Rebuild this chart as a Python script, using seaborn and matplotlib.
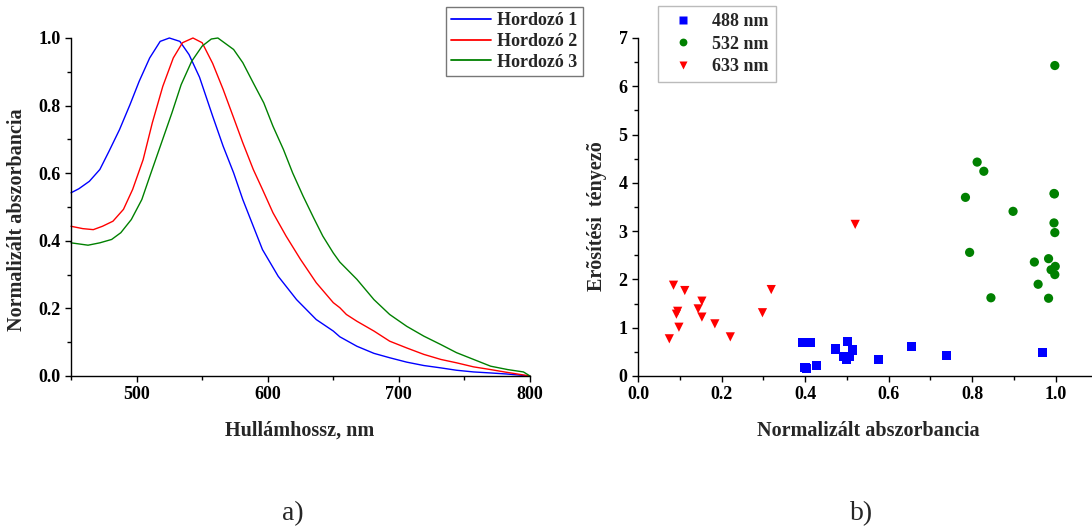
import numpy as np
import pandas as pd
import matplotlib
matplotlib.use("Agg")
import matplotlib.pyplot as plt
import seaborn as sns
from matplotlib.ticker import MultipleLocator

# ---------------- data ----------------
wl_1 = [450, 456, 464, 472, 479, 487, 495, 502, 510, 518, 525, 533, 540, 548, 558, 566, 574,
        581, 589, 596, 608, 622, 637, 650, 655, 668, 681, 693, 706, 719, 732, 744, 757, 770,
        782, 800]
abs_1 = [0.542, 0.554, 0.576, 0.611, 0.665, 0.729, 0.803, 0.872, 0.941, 0.99, 1.0, 0.99, 0.951,
         0.884, 0.769, 0.68, 0.601, 0.522, 0.443, 0.374, 0.295, 0.226, 0.167, 0.133, 0.116,
         0.088, 0.067, 0.054, 0.041, 0.031, 0.024, 0.017, 0.012, 0.009, 0.006, 0.0]

wl_2 = [450, 459, 467, 474, 482, 490, 497, 505, 512, 520, 528, 535, 543, 550, 558, 566, 574,
        581, 589, 596, 604, 614, 625, 637, 650, 655, 660, 668, 681, 693, 706, 719, 732, 744,
        757, 770, 782, 800]
abs_2 = [0.443, 0.436, 0.433, 0.443, 0.458, 0.493, 0.552, 0.64, 0.749, 0.857, 0.941, 0.986,
         1.0, 0.986, 0.925, 0.848, 0.764, 0.69, 0.611, 0.552, 0.483, 0.414, 0.345, 0.276,
         0.217, 0.202, 0.182, 0.162, 0.133, 0.103, 0.083, 0.064, 0.049, 0.039, 0.027, 0.019,
         0.011, 0.0]

wl_3 = [450, 463, 472, 481, 488, 496, 504, 511, 519, 527, 534, 542, 550, 557, 562, 574, 581,
        589, 597, 604, 612, 619, 627, 635, 642, 650, 655, 668, 681, 693, 706, 719, 732, 744,
        757, 770, 783, 795, 800]
abs_3 = [0.394, 0.387, 0.394, 0.404, 0.424, 0.463, 0.522, 0.601, 0.69, 0.779, 0.862, 0.931,
         0.976, 0.997, 1.0, 0.966, 0.927, 0.867, 0.808, 0.739, 0.67, 0.601, 0.532, 0.468,
         0.414, 0.364, 0.337, 0.286, 0.226, 0.182, 0.147, 0.118, 0.093, 0.069, 0.049, 0.029,
         0.019, 0.012, 0.0]

x_488 = [0.395, 0.412, 0.40, 0.403, 0.428, 0.473, 0.502, 0.493, 0.499, 0.506, 0.514, 0.575,
         0.654, 0.738, 0.969]
y_488 = [0.70, 0.69, 0.17, 0.16, 0.21, 0.56, 0.72, 0.40, 0.34, 0.40, 0.54, 0.34, 0.61, 0.43, 0.48]

x_532 = [0.998, 0.812, 0.828, 0.784, 0.898, 0.996, 0.997, 0.996, 0.998, 0.794, 0.983, 0.949,
         0.999, 0.989, 0.998, 0.958, 0.845, 0.983]
y_532 = [6.43, 4.43, 4.24, 3.70, 3.41, 3.78, 3.77, 3.17, 2.97, 2.56, 2.43, 2.36, 2.27, 2.20,
         2.10, 1.90, 1.62, 1.61]

x_633 = [0.52, 0.085, 0.112, 0.319, 0.153, 0.144, 0.095, 0.092, 0.153, 0.298, 0.184, 0.098,
         0.221, 0.075]
y_633 = [3.14, 1.88, 1.77, 1.79, 1.55, 1.39, 1.34, 1.28, 1.22, 1.31, 1.08, 1.01, 0.81, 0.77]

series_names = ["Hordozó 1", "Hordozó 2", "Hordozó 3"]
laser_names = ["488 nm", "532 nm", "633 nm"]

# ---------------- style ----------------
sns.set_theme(style="ticks")
plt.rcParams['font.family'] = ['Liberation Serif', 'DejaVu Serif']

spec = pd.concat([
    pd.DataFrame({"wl": wl_1, "abs": abs_1, "s": series_names[0]}),
    pd.DataFrame({"wl": wl_2, "abs": abs_2, "s": series_names[1]}),
    pd.DataFrame({"wl": wl_3, "abs": abs_3, "s": series_names[2]}),
])
pts = pd.concat([
    pd.DataFrame({"x": x_488, "y": y_488, "l": laser_names[0]}),
    pd.DataFrame({"x": x_532, "y": y_532, "l": laser_names[1]}),
    pd.DataFrame({"x": x_633, "y": y_633, "l": laser_names[2]}),
])

W, H = 1092, 528
fig = plt.figure(figsize=(W / 100, H / 100), dpi=100)

def px_axes(x0, x1, ytop, ybot):
    return fig.add_axes([x0 / W, 1 - ybot / H, (x1 - x0) / W, (ybot - ytop) / H])

ax1 = px_axes(71, 530, 38, 376)
ax2 = px_axes(638, 1092, 38, 376)

line_pal = {series_names[0]: "#0000FF", series_names[1]: "#FF0000", series_names[2]: "#008000"}
sns.lineplot(data=spec, x="wl", y="abs", hue="s", palette=line_pal, ax=ax1,
             linewidth=1.0, estimator=None, sort=False)
for ln in ax1.lines:
    ln.set_clip_on(False)
    ln.set_solid_joinstyle('round')

pt_pal = {laser_names[0]: "#0000FF", laser_names[1]: "#008000", laser_names[2]: "#FF0000"}
pt_mark = {laser_names[0]: "s", laser_names[1]: "o", laser_names[2]: "v"}
sns.scatterplot(data=pts, x="x", y="y", hue="l", style="l", palette=pt_pal, markers=pt_mark,
                ax=ax2, s=44, edgecolor="none", clip_on=False)

bold = dict(fontsize=14.5, fontweight="bold")

for ax in (ax1, ax2):
    sns.despine(ax=ax)
    for sp in ('left', 'bottom'):
        ax.spines[sp].set_linewidth(1.0)
        ax.spines[sp].set_color('black')
    ax.tick_params(which='major', direction='out', length=4.5, width=1.0, colors='black',
                   labelsize=13, pad=3)
    ax.tick_params(which='minor', direction='out', length=2.8, width=1.0, colors='black')

ax1.set_xlim(450, 800)
ax1.set_ylim(0, 1.0)
ax1.xaxis.set_minor_locator(MultipleLocator(50))
ax1.yaxis.set_minor_locator(MultipleLocator(0.1))
ax1.set_xticks([500, 600, 700, 800])
ax1.set_xticklabels(["500", "600", "700", "800"])
ax1.set_yticks([0.0, 0.2, 0.4, 0.6, 0.8, 1.0])
ax1.set_yticklabels(["0.0", "0.2", "0.4", "0.6", "0.8", "1.0"])
ax1.set_xlabel("Hullámhossz, nm", **bold)
ax1.set_ylabel("Normalizált abszorbancia", **bold)

ax2.set_xlim(0, 1.087)
ax2.set_ylim(0, 7)
ax2.xaxis.set_minor_locator(MultipleLocator(0.1))
ax2.yaxis.set_minor_locator(MultipleLocator(0.5))
ax2.set_xticks([0.0, 0.2, 0.4, 0.6, 0.8, 1.0])
ax2.set_xticklabels(["0.0", "0.2", "0.4", "0.6", "0.8", "1.0"])
ax2.set_yticks(range(8))
ax2.set_yticklabels([str(i) for i in range(8)])
ax2.set_xlabel("Normalizált abszorbancia", **bold)
ax2.set_ylabel("Erõsítési  tényezõ", **bold)

# label positions (axes fraction); x labels anchored at their top, y labels at their right edge
ax1.xaxis.set_label_coords((300 - 71) / 459, -(421 - 376) / 338)
ax2.xaxis.set_label_coords((868 - 638) / 454, -(421 - 376) / 338)
ax1.yaxis.set_label_coords(-(71 - 27) / 459, (376 - 220) / 338)
ax2.yaxis.set_label_coords(-(638 - 607) / 454, (376 - 216) / 338)

for ax in (ax1, ax2):
    for lab in ax.get_xticklabels() + ax.get_yticklabels():
        lab.set_fontweight('bold')
        lab.set_fontsize(13)

leg1 = ax1.legend(loc="upper left", bbox_to_anchor=(446 / W, 1 - 7 / H),
                  bbox_transform=fig.transFigure, frameon=True, fancybox=False,
                  prop=dict(family='Liberation Serif', weight='bold', size=13),
                  handlelength=2.2, handletextpad=0.35, borderpad=0.3, labelspacing=0.2,
                  borderaxespad=0)
leg1.get_frame().set_edgecolor("#555555")
leg1.get_frame().set_linewidth(1.0)
for lh in leg1.get_lines():
    lh.set_linewidth(1.3)

leg2 = ax2.legend(loc="upper left", bbox_to_anchor=(658 / W, 1 - 6 / H),
                  bbox_transform=fig.transFigure, frameon=True, fancybox=False,
                  prop=dict(family='Liberation Serif', weight='bold', size=13),
                  handletextpad=0.6, borderpad=0.4, labelspacing=0.3, borderaxespad=0,
                  markerscale=0.85)
leg2.get_frame().set_edgecolor("#aaaaaa")
leg2.get_frame().set_linewidth(1.0)

fig.text(293 / W, 1 - 514 / H, "a)", ha="center", va="center", fontsize=20)
fig.text(862 / W, 1 - 514 / H, "b)", ha="center", va="center", fontsize=20)

fig.savefig("out.png", dpi=100, facecolor="white")
